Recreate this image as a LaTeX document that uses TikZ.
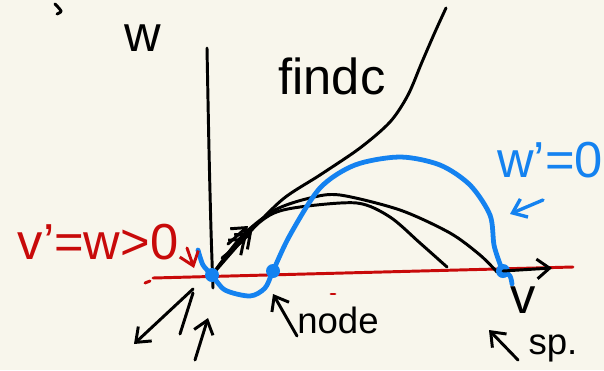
\documentclass[tikz,border=0pt]{standalone}
\usepackage{fontspec}
\setmainfont{Liberation Sans}
\usetikzlibrary{arrows.meta}
\definecolor{SketchPaper}{RGB}{248,246,236}
\definecolor{SketchRed}{RGB}{200,10,10}
\definecolor{SketchBlue}{RGB}{20,130,240}

\begin{document}
\begin{tikzpicture}[x=0.025cm,y=-0.025cm,
  pen/.style={line width=2.1pt,line cap=round,line join=round},
  inkblack/.style={pen,black},
  inkred/.style={pen,SketchRed},
  inkblue/.style={pen,SketchBlue,line width=3.4pt},
  hand/.style={font=\fontsize{36}{40}\selectfont,inner sep=0pt},
  smallhand/.style={font=\fontsize{26}{30}\selectfont,inner sep=0pt},
  barb/.style={-{Straight Barb[length=9pt,width=14pt]}}]
  \fill[SketchPaper] (0,0) rectangle (604,370);
  \useasboundingbox (0,0) rectangle (604,370);

  % equilibria
  \coordinate (orig)   at (212,275);
  \coordinate (nodept) at (273,271);
  \coordinate (saddle) at (503,271);

  % axes
  \draw[inkblack] plot[smooth] coordinates {(207,48) (209,150) (211,230) (213,288)};
  \draw[inkred] (153,278) -- (573,267);
  \draw[inkred] (145,283) -- (150,281);
  \draw[inkred] (331,294) -- (335,294);
  \draw[inkblack] plot[smooth] coordinates {(55,4) (61,11) (57,14)};

  % trajectories out of the origin
  \draw[inkblack] plot[smooth,tension=0.5] coordinates {(orig) (248,234) (283,199) (320,175)
    (360,148) (390,122) (408,95) (422,62) (435,32) (446,8)};
  \draw[inkblack] plot[smooth] coordinates {(orig) (240,240) (270,215) (300,207) (357,203)
    (390,217) (420,243) (447,267)};
  \draw[inkblack] plot[smooth] coordinates {(orig) (242,236) (275,210) (310,198) (340,195)
    (400,210) (450,233) (480,255) (497,272)};
  \foreach \xa/\ya/\xb/\yb in {222/258/246/238,232/250/252/232,228/244/248/226}
    \draw[inkblack,barb] (\xa,\ya) -- (\xb,\yb);

  % w' = 0 nullcline
  \draw[inkblue] plot[smooth] coordinates {(198,250) (203,265) (orig) (225,290) (250,296)
    (265,288) (nodept) (290,235) (320,188) (355,165) (400,157) (440,165) (470,185)
    (490,215) (494,245) (500,264) (saddle) (510,276) (512,284)};
  \foreach \p in {orig,nodept,saddle}
    \fill[SketchBlue] (\p) circle (7);

  % arrows and marks
  \draw[inkblack,barb] (saddle) -- (552,268);
  \draw[inkblack,barb] (193,289) -- (134,344);
  \draw[inkblack] (193,293) -- (180,334);
  \draw[inkblack,barb] (195,360) -- (208,318);
  \draw[inkblack,barb] (297,336) -- (273,294);
  \draw[inkblack,barb] (518,360) -- (489,330);
  \draw[inkblue,line width=2.4pt,barb] (543,200) -- (510,214);
  \draw[inkred,barb] (187,248) -- (194,268);

  % labels
  \node[hand] (wlab) at (143,38) {w};
  \node[hand] (findc) at (332,76) {findc};
  \node[hand,text=SketchRed] (vnull) at (98,242) {v'=w>0};
  \node[hand,text=SketchBlue] (wnull) at (550,160) {w'=0};
  \node[hand] (vlab) at (523,300) {v};
  \node[smallhand] (nodelab) at (338,320) {node};
  \node[smallhand] (splab) at (553,348) {sp.};
\end{tikzpicture}
\end{document}
